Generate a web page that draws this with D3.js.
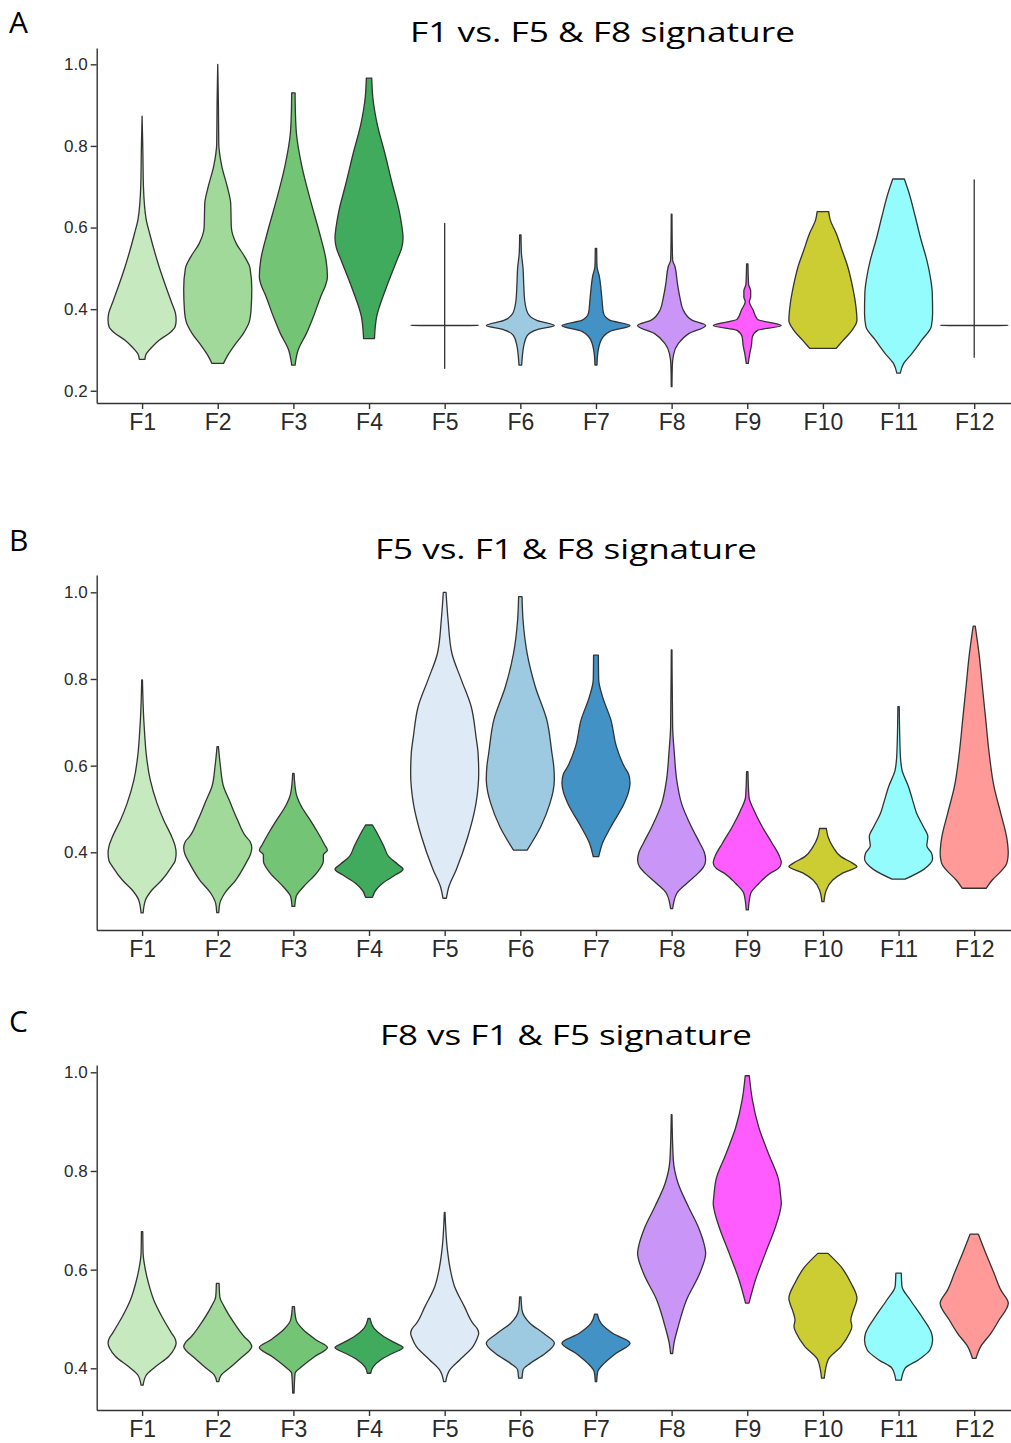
<!DOCTYPE html>
<html>
<head>
<meta charset="utf-8">
<script src="https://cdn.jsdelivr.net/npm/d3@7"></script>
<style>
  body { margin: 0; background: #fff; }
  svg { display: block; }
</style>
</head>
<body>
<div id="chart"></div>
<script>
// categories and colours
const categories = ['F1','F2','F3','F4','F5','F6','F7','F8','F9','F10','F11','F12'];
const fills = ['#c7e9c0','#a1d99b','#74c476','#41ab5d','#deebf7','#9ecae1','#4292c6','#c996f8','#ff5cff','#cccc33','#94fcfc','#ff9a99'];

const titles = ['F1 vs. F5 & F8 signature', 'F5 vs. F1 & F8 signature', 'F8 vs F1 & F5 signature'];
const letters = ['A', 'B', 'C'];

const ticksA = [0.2, 0.4, 0.6, 0.8, 1.0];
const ticksB = [0.4, 0.6, 0.8, 1.0];
const ticksC = [0.4, 0.6, 0.8, 1.0];

// violin outlines: [value, relative half width] from top to bottom
const violinsA = [
  [[0.873,0],[0.80,0.02],[0.70,0.04],[0.62,0.12],[0.586,0.22],[0.504,0.5],[0.42,0.85],[0.39,0.98],[0.373,1.0],[0.357,0.97],[0.341,0.8],[0.324,0.5],[0.308,0.3],[0.29,0.12],[0.277,0.08]],
  [[1.0,0],[0.90,0.02],[0.806,0.03],[0.75,0.12],[0.70,0.28],[0.66,0.38],[0.60,0.4],[0.56,0.55],[0.53,0.78],[0.50,0.95],[0.45,1.0],[0.40,0.98],[0.37,0.93],[0.34,0.75],[0.31,0.48],[0.285,0.28],[0.267,0.17]],
  [[0.93,0.05],[0.88,0.06],[0.83,0.09],[0.75,0.25],[0.667,0.5],[0.586,0.77],[0.52,0.96],[0.48,1.0],[0.455,0.93],[0.44,0.85],[0.38,0.58],[0.34,0.38],[0.30,0.14],[0.263,0.05]],
  [[0.966,0.08],[0.92,0.11],[0.85,0.25],[0.79,0.44],[0.708,0.68],[0.635,0.9],[0.60,0.97],[0.575,1.0],[0.55,0.96],[0.52,0.82],[0.447,0.48],[0.38,0.22],[0.328,0.16]],
  [[0.61,0],[0.3605,0],[0.36,1.0],[0.3595,0],[0.255,0]],
  [[0.582,0.02],[0.54,0.03],[0.50,0.08],[0.46,0.1],[0.42,0.13],[0.39,0.22],[0.372,0.5],[0.36,1.0],[0.35,0.5],[0.335,0.2],[0.31,0.1],[0.285,0.06],[0.263,0.04]],
  [[0.549,0.02],[0.505,0.03],[0.48,0.1],[0.447,0.15],[0.42,0.18],[0.39,0.22],[0.373,0.4],[0.36,1.0],[0.345,0.4],[0.324,0.15],[0.29,0.05],[0.263,0.03]],
  [[0.633,0.01],[0.55,0.02],[0.52,0.03],[0.504,0.1],[0.463,0.17],[0.43,0.24],[0.398,0.34],[0.373,0.6],[0.36,1.0],[0.34,0.5],[0.316,0.2],[0.29,0.06],[0.26,0.02],[0.21,0.01]],
  [[0.511,0.02],[0.46,0.04],[0.445,0.1],[0.43,0.1],[0.418,0.06],[0.398,0.17],[0.375,0.3],[0.36,1.0],[0.348,0.3],[0.332,0.15],[0.31,0.12],[0.29,0.07],[0.267,0.03]],
  [[0.639,0.17],[0.62,0.21],[0.586,0.39],[0.545,0.56],[0.504,0.73],[0.455,0.87],[0.406,0.97],[0.373,1.0],[0.35,0.87],[0.324,0.6],[0.304,0.39]],
  [[0.719,0.17],[0.684,0.31],[0.627,0.49],[0.57,0.66],[0.52,0.83],[0.48,0.93],[0.44,0.99],[0.39,1.0],[0.357,0.96],[0.324,0.68],[0.29,0.38],[0.267,0.15],[0.243,0.05]],
  [[0.717,0],[0.3605,0],[0.36,1.0],[0.3595,0],[0.282,0]]
];

const violinsB = [
  [[0.798,0.01],[0.705,0.05],[0.667,0.08],[0.628,0.12],[0.567,0.24],[0.513,0.44],[0.475,0.63],[0.436,0.87],[0.415,0.97],[0.398,1.0],[0.38,0.97],[0.367,0.87],[0.336,0.58],[0.313,0.29],[0.29,0.1],[0.26,0.03]],
  [[0.644,0.02],[0.598,0.08],[0.552,0.17],[0.52,0.34],[0.475,0.58],[0.436,0.83],[0.425,0.95],[0.41,1.0],[0.395,0.96],[0.375,0.83],[0.336,0.53],[0.305,0.2],[0.282,0.06],[0.261,0.03]],
  [[0.582,0.02],[0.536,0.08],[0.505,0.24],[0.475,0.49],[0.444,0.73],[0.417,0.92],[0.405,1.0],[0.394,0.88],[0.38,0.88],[0.352,0.68],[0.32,0.29],[0.298,0.08],[0.275,0.04]],
  [[0.463,0.1],[0.444,0.24],[0.413,0.44],[0.39,0.58],[0.372,0.85],[0.361,1.0],[0.348,0.78],[0.328,0.39],[0.313,0.2],[0.296,0.1]],
  [[1.0,0.04],[0.936,0.1],[0.86,0.21],[0.798,0.49],[0.736,0.78],[0.667,0.92],[0.63,0.98],[0.582,1.0],[0.55,0.98],[0.513,0.92],[0.436,0.68],[0.36,0.34],[0.32,0.12],[0.294,0.05]],
  [[0.99,0.05],[0.936,0.08],[0.859,0.2],[0.782,0.44],[0.705,0.78],[0.628,0.93],[0.60,0.98],[0.567,1.0],[0.54,0.96],[0.513,0.87],[0.459,0.6],[0.405,0.2]],
  [[0.855,0.07],[0.798,0.08],[0.76,0.19],[0.705,0.44],[0.644,0.6],[0.598,0.83],[0.58,0.96],[0.56,1.0],[0.54,0.96],[0.513,0.83],[0.459,0.44],[0.421,0.19],[0.39,0.08]],
  [[0.867,0.01],[0.69,0.03],[0.628,0.08],[0.567,0.15],[0.513,0.29],[0.459,0.58],[0.421,0.83],[0.40,0.96],[0.382,1.0],[0.365,0.93],[0.352,0.78],[0.328,0.44],[0.305,0.15],[0.27,0.03]],
  [[0.586,0.02],[0.528,0.05],[0.498,0.19],[0.459,0.44],[0.421,0.73],[0.39,0.95],[0.376,1.0],[0.362,0.9],[0.352,0.68],[0.328,0.34],[0.305,0.1],[0.267,0.03]],
  [[0.455,0.1],[0.436,0.15],[0.413,0.29],[0.39,0.53],[0.375,0.87],[0.367,1.0],[0.352,0.58],[0.336,0.29],[0.313,0.1],[0.286,0.03]],
  [[0.736,0.02],[0.628,0.05],[0.59,0.1],[0.552,0.29],[0.513,0.44],[0.49,0.53],[0.459,0.73],[0.436,0.86],[0.415,0.83],[0.398,0.97],[0.385,1.0],[0.36,0.73],[0.338,0.19]],
  [[0.922,0.03],[0.859,0.14],[0.782,0.24],[0.705,0.34],[0.628,0.44],[0.552,0.58],[0.49,0.78],[0.436,0.95],[0.42,0.98],[0.398,1.0],[0.375,0.96],[0.36,0.83],[0.336,0.53],[0.317,0.35]]
];

const violinsC = [
  [[0.677,0.02],[0.633,0.03],[0.606,0.08],[0.572,0.19],[0.539,0.34],[0.505,0.58],[0.471,0.87],[0.46,0.97],[0.451,1.0],[0.44,0.95],[0.424,0.78],[0.403,0.39],[0.386,0.12],[0.366,0.03]],
  [[0.572,0.04],[0.545,0.06],[0.525,0.19],[0.491,0.49],[0.464,0.78],[0.452,0.95],[0.444,1.0],[0.436,0.93],[0.424,0.73],[0.403,0.39],[0.386,0.1],[0.373,0.03]],
  [[0.525,0.03],[0.498,0.08],[0.478,0.29],[0.457,0.68],[0.442,1.0],[0.424,0.63],[0.403,0.24],[0.39,0.05],[0.35,0.02]],
  [[0.501,0.03],[0.481,0.15],[0.464,0.44],[0.451,0.78],[0.442,1.0],[0.43,0.68],[0.417,0.34],[0.403,0.12],[0.39,0.05]],
  [[0.716,0.01],[0.64,0.08],[0.606,0.15],[0.566,0.29],[0.525,0.58],[0.491,0.83],[0.48,0.96],[0.471,1.0],[0.46,0.95],[0.444,0.83],[0.417,0.44],[0.397,0.15],[0.373,0.03]],
  [[0.545,0.02],[0.518,0.05],[0.491,0.29],[0.471,0.68],[0.451,1.0],[0.43,0.73],[0.41,0.29],[0.397,0.08],[0.38,0.05]],
  [[0.51,0.04],[0.491,0.15],[0.471,0.49],[0.451,1.0],[0.43,0.58],[0.41,0.24],[0.393,0.05],[0.373,0.02]],
  [[0.914,0.01],[0.822,0.05],[0.775,0.19],[0.728,0.49],[0.687,0.78],[0.647,0.97],[0.633,1.0],[0.593,0.83],[0.539,0.44],[0.484,0.19],[0.451,0.07],[0.43,0.03]],
  [[0.993,0.06],[0.944,0.15],[0.888,0.34],[0.834,0.63],[0.782,0.92],[0.75,0.98],[0.734,1.0],[0.72,0.97],[0.687,0.83],[0.633,0.53],[0.579,0.24],[0.532,0.05]],
  [[0.633,0.15],[0.606,0.53],[0.572,0.83],[0.542,1.0],[0.515,0.88],[0.498,0.82],[0.485,0.85],[0.471,0.78],[0.444,0.53],[0.417,0.15],[0.38,0.04]],
  [[0.593,0.08],[0.566,0.1],[0.539,0.34],[0.505,0.68],[0.471,0.97],[0.457,1.0],[0.437,0.92],[0.417,0.58],[0.4,0.19],[0.376,0.08]],
  [[0.672,0.12],[0.633,0.34],[0.593,0.58],[0.559,0.78],[0.532,1.0],[0.498,0.73],[0.471,0.49],[0.444,0.19],[0.42,0.05]]
];

const W = 1011, H = 1443;
const axisLeftX = 96.7, axisRightX = 1019.6;

// panel layout (pixels)
const panels = [
  { violins: violinsA, ticks: ticksA, top: 48,  bottom: 403,  domain: [0.170, 1.040], titleX: 410, titleY: 42,  titleLen: 385, letterY: 33 },
  { violins: violinsB, ticks: ticksB, top: 575, bottom: 930,  domain: [0.2207, 1.040], titleX: 375, titleY: 559, titleLen: 382, letterY: 551 },
  { violins: violinsC, ticks: ticksC, top: 1065, bottom: 1410, domain: [0.3155, 1.0148], titleX: 380, titleY: 1045, titleLen: 372, letterY: 1032 }
];

const svg = d3.select('#chart').append('svg')
  .attr('width', W)
  .attr('height', H);

const x = d3.scalePoint()
  .domain(categories)
  .range([axisLeftX, axisRightX])
  .padding(0.6);
const maxHalf = x.step() * 0.45;

panels.forEach((p, pi) => {
  const g = svg.append('g');

  const y = d3.scaleLinear().domain(p.domain).range([p.bottom, p.top]);

  // violins
  p.violins.forEach((prof, i) => {
    const cx = x(categories[i]);
    const area = d3.area()
      .curve(d3.curveMonotoneY)
      .y(d => y(d[0]))
      .x0(d => cx - d[1] * maxHalf)
      .x1(d => cx + d[1] * maxHalf);
    g.append('path')
      .datum(prof)
      .attr('d', area)
      .attr('fill', fills[i])
      .attr('stroke', '#333')
      .attr('stroke-width', 1.3)
      .attr('stroke-linejoin', 'round');
  });

  // axes
  const yAxis = g.append('g')
    .attr('transform', 'translate(' + axisLeftX + ',0)')
    .call(d3.axisLeft(y).tickValues(p.ticks).tickFormat(d3.format('.1f')).tickSize(6).tickSizeOuter(0).tickPadding(3));
  yAxis.selectAll('text')
    .attr('font-family', 'Liberation Sans, Arial, sans-serif')
    .attr('font-size', 17)
    .attr('fill', '#2a2a2a');

  const xAxis = g.append('g')
    .attr('transform', 'translate(0,' + p.bottom + ')')
    .call(d3.axisBottom(x).tickSize(6).tickSizeOuter(0).tickPadding(5));
  xAxis.selectAll('text')
    .attr('font-family', 'Liberation Sans, Arial, sans-serif')
    .attr('font-size', 23)
    .attr('fill', '#2a2a2a');

  g.selectAll('.domain, .tick line')
    .attr('stroke', '#333')
    .attr('stroke-width', 1.4);

  // title and panel letter
  g.append('text')
    .attr('x', p.titleX)
    .attr('y', p.titleY)
    .attr('textLength', p.titleLen)
    .attr('lengthAdjust', 'spacingAndGlyphs')
    .attr('font-family', 'Open Sans, Noto Sans, sans-serif')
    .attr('font-size', 28)
    .attr('fill', '#000')
    .text(titles[pi]);

  g.append('text')
    .attr('x', 9)
    .attr('y', p.letterY)
    .attr('font-family', 'Open Sans, Noto Sans, sans-serif')
    .attr('font-size', 30)
    .attr('fill', '#000')
    .text(letters[pi]);
});
</script>
</body>
</html>
